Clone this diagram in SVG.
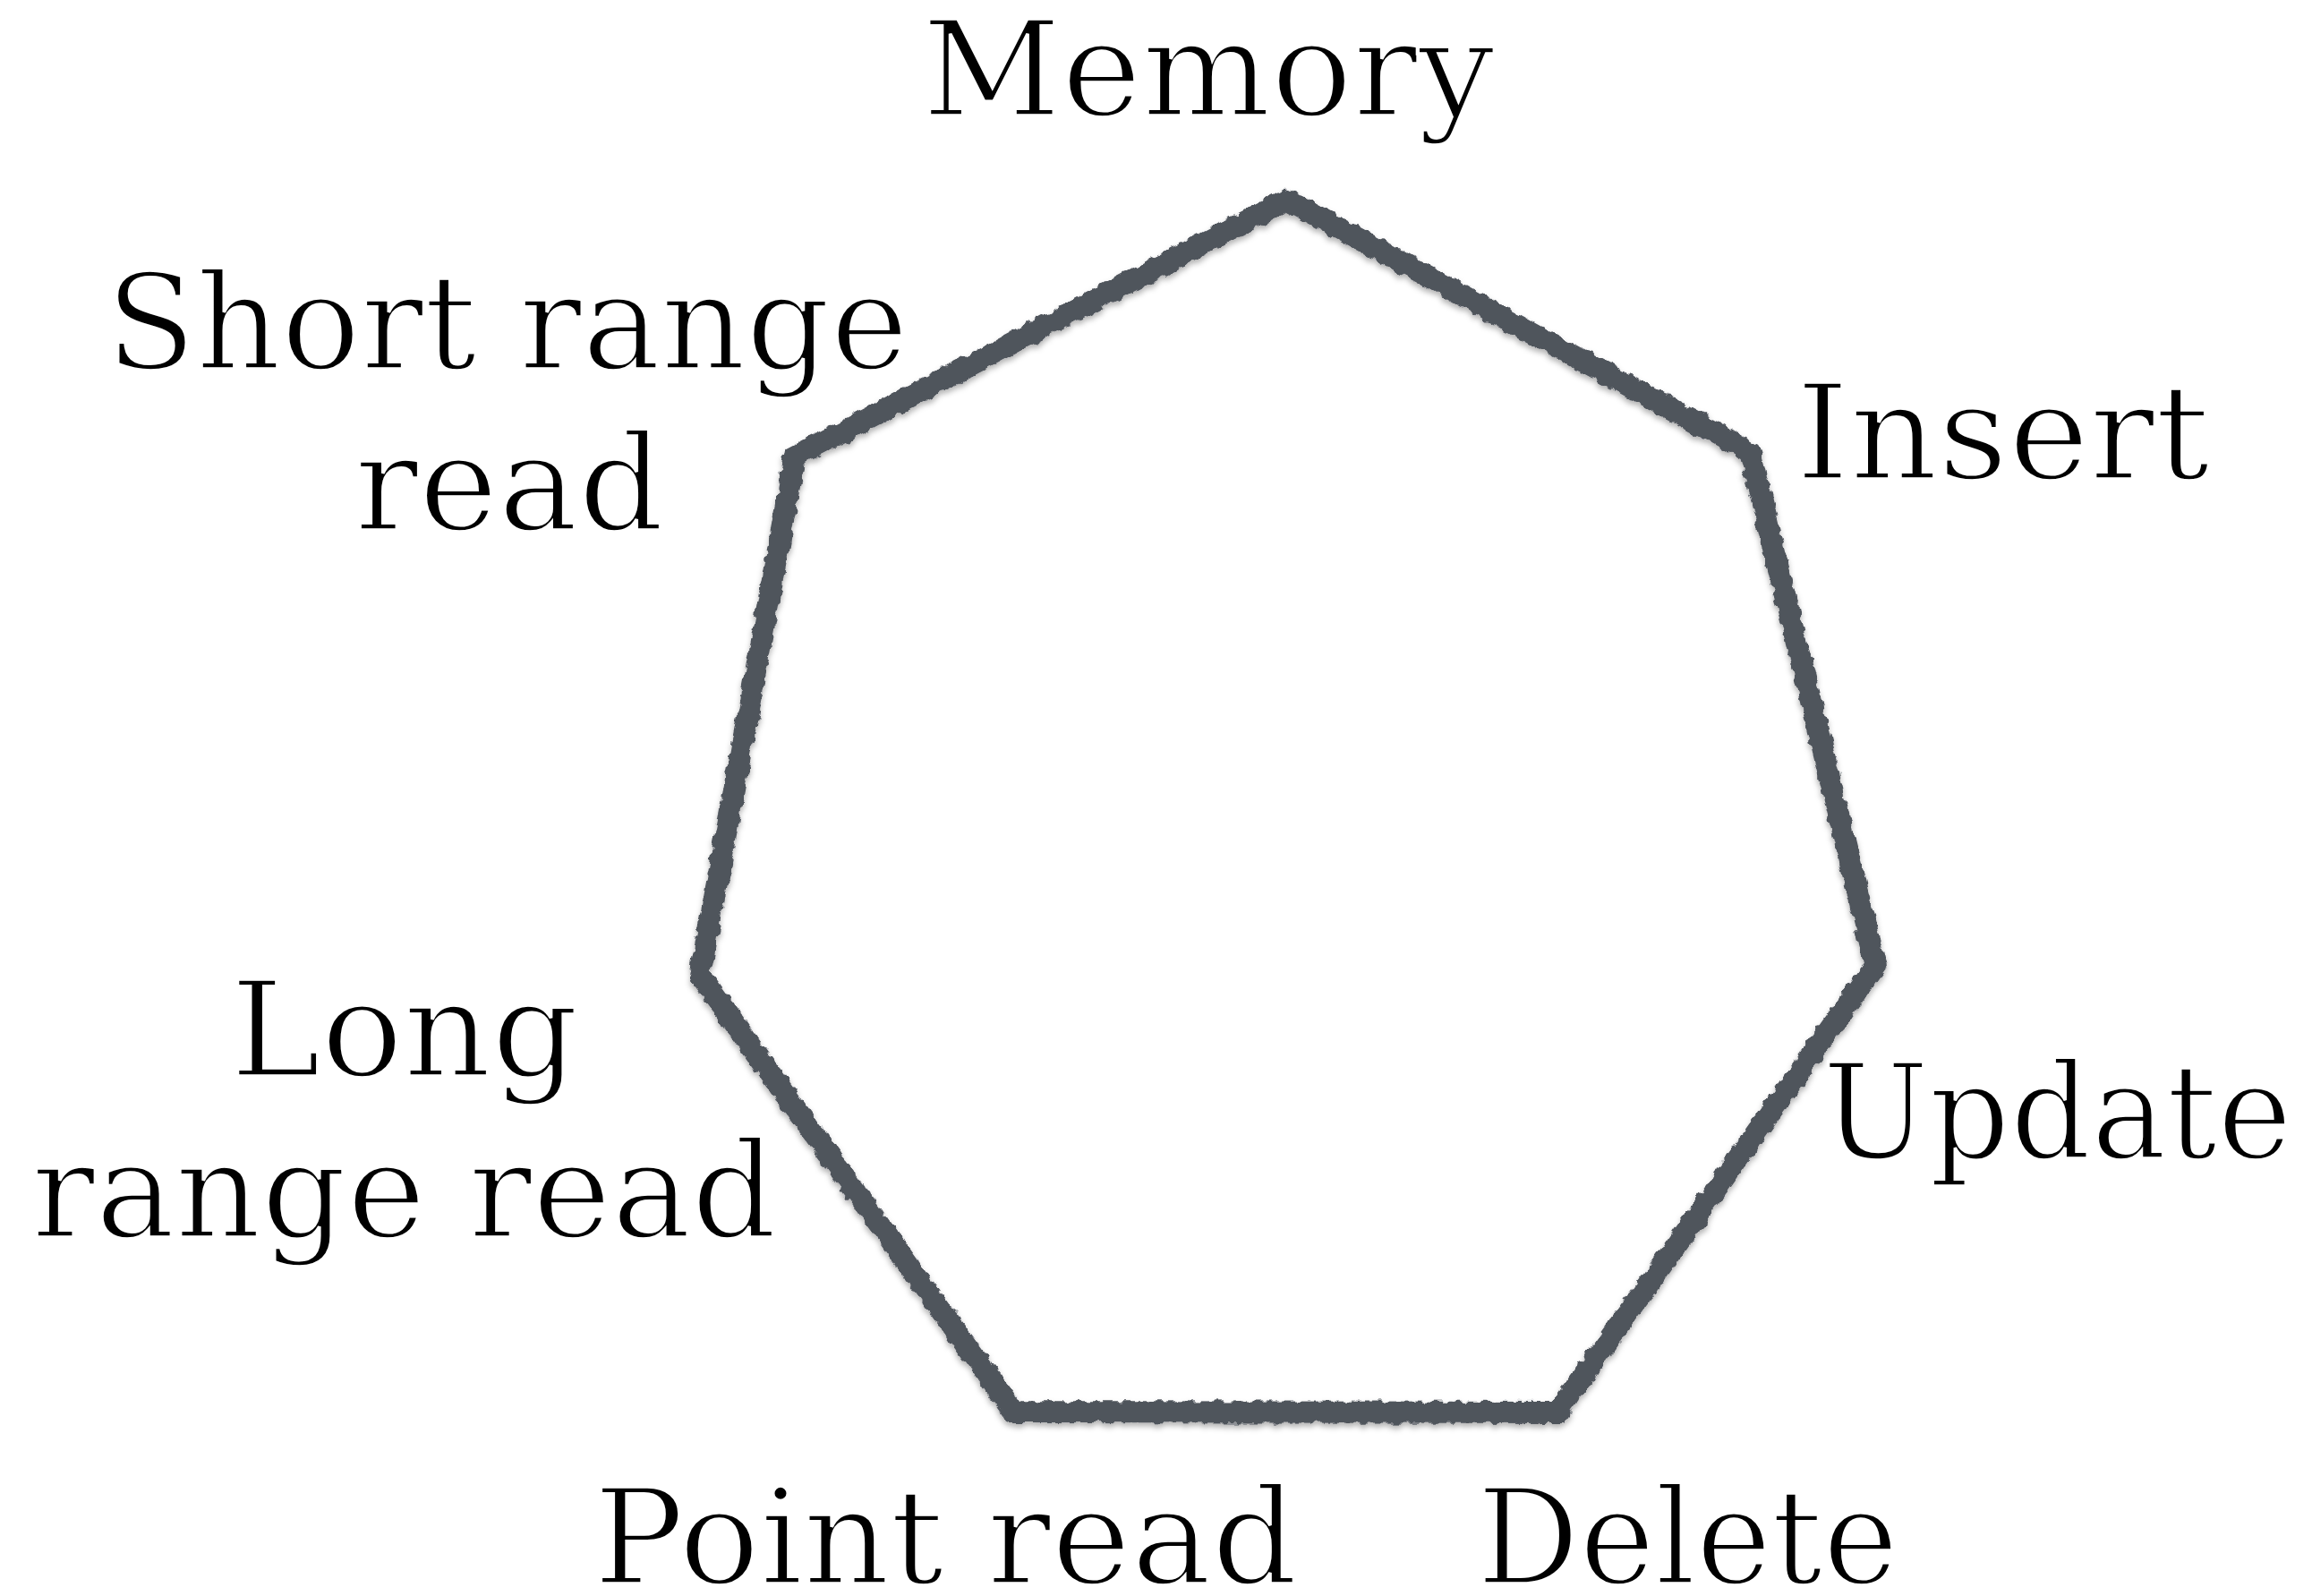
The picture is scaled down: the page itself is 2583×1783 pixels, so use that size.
<svg xmlns="http://www.w3.org/2000/svg" width="2583" height="1783" viewBox="0 0 2583 1783">
  <style>
    .lbl { font-family: "DejaVu Serif", "Liberation Serif", serif; font-size: 147px; fill: #000; stroke: #fff; stroke-width: 3.5px; }
    .edge { fill: none; stroke: #4f545c; stroke-width: 24; stroke-linejoin: miter; stroke-miterlimit: 10; }
  </style>
  <defs>
    <filter id="chalk" x="-5%" y="-5%" width="110%" height="110%">
      <feTurbulence type="fractalNoise" baseFrequency="0.09" numOctaves="2" seed="4" result="n"/>
      <feDisplacementMap in="SourceGraphic" in2="n" scale="10" xChannelSelector="R" yChannelSelector="G" result="d"/>
      <feGaussianBlur in="d" stdDeviation="3" result="b"/>
      <feOffset in="b" dx="0" dy="4" result="o"/>
      <feFlood flood-color="#000" flood-opacity="0.3"/>
      <feComposite in2="o" operator="in" result="s"/>
      <feMerge><feMergeNode in="s"/><feMergeNode in="d"/></feMerge>
    </filter>
  </defs>
  <rect width="2583" height="1783" fill="#fff"/>
  <g id="connectors" filter="url(#chalk)">
    <polygon class="edge" points="1438,223 1955,505 2095,1078 1740,1578 1133,1577 782,1090 888,510"/>
  </g>
  <g id="node-memory"><text class="lbl" x="1030" y="129" textLength="640" lengthAdjust="spacingAndGlyphs">Memory</text></g>
  <g id="node-short-range-read">
    <text class="lbl" x="118" y="412" textLength="897" lengthAdjust="spacingAndGlyphs">Short range</text>
    <text class="lbl" x="396" y="592" textLength="346" lengthAdjust="spacingAndGlyphs">read</text>
  </g>
  <g id="node-insert"><text class="lbl" x="2006" y="535" textLength="463" lengthAdjust="spacingAndGlyphs">Insert</text></g>
  <g id="node-update"><text class="lbl" x="2036" y="1294" textLength="525" lengthAdjust="spacingAndGlyphs">Update</text></g>
  <g id="node-long-range-read">
    <text class="lbl" x="257" y="1202" textLength="390" lengthAdjust="spacingAndGlyphs">Long</text>
    <text class="lbl" x="35" y="1382" textLength="833" lengthAdjust="spacingAndGlyphs">range read</text>
  </g>
  <g id="node-point-read"><text class="lbl" x="663" y="1769" textLength="787" lengthAdjust="spacingAndGlyphs">Point read</text></g>
  <g id="node-delete"><text class="lbl" x="1650" y="1769" textLength="471" lengthAdjust="spacingAndGlyphs">Delete</text></g>
</svg>
